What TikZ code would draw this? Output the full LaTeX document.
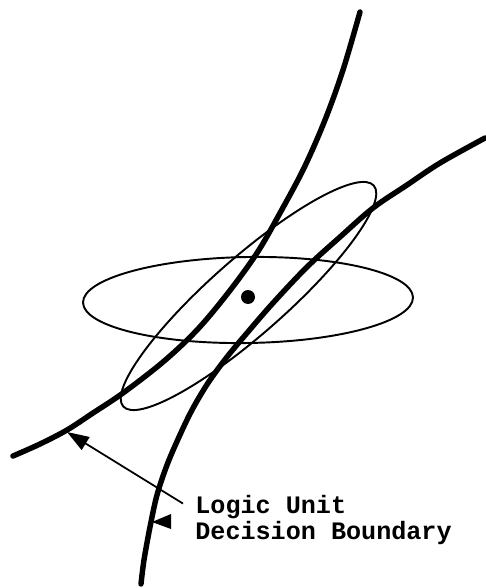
\documentclass[tikz,border=0pt]{standalone}
\usepackage{fontspec}
\setmonofont{Liberation Mono}
\usetikzlibrary{arrows.meta}
\tikzset{
    bound_curve/.style={line width=3.1pt, line cap=round, line join=round},
    spread_ellipse/.style={line width=1.1pt},
    pointer_arrow/.style={-{Triangle[length=12.5pt, width=8.5pt]}, line width=1pt},
    mean_dot/.style={circle, fill=black, inner sep=0pt, minimum size=0.28cm},
    lbl/.style={font=\ttfamily\bfseries\fontsize{14.3}{14.7}\selectfont, inner sep=0pt, anchor=base west}
}
\begin{document}
\begin{tikzpicture}[x=0.02cm, y=-0.02cm]
    \useasboundingbox (0,0) rectangle (485,588);

    % the two decision curves
    \draw[bound_curve] plot[smooth, tension=0.55] coordinates {
        (360,12) (343,70) (325,120) (304,168) (280,213) (257,253) (228,293) (197,330)
        (163,362) (123,393) (93,413) (67,430) (40,444) (13,456)};
    \draw[bound_curve] plot[smooth, tension=0.55] coordinates {
        (485,138) (440,163) (407,185) (373,208) (340,237) (307,267) (273,303) (247,333)
        (227,357) (208,383) (192,410) (179,437) (167,465) (157,495) (150,527) (144,560) (141,584)};

    % the two spread ellipses and their mean
    \draw[spread_ellipse, rotate around={0.9:(248,300)}] (248,300) ellipse [x radius=165, y radius=43];
    \draw[spread_ellipse, rotate around={41.4:(248.5,296)}] (248.5,296) ellipse [x radius=167, y radius=38];
    \node[mean_dot] (mean) at (248,297) {};

    % label
    \node[lbl] (logic_line) at (195,513) {Logic Unit};
    \node[lbl] (decision_line) at (195,539) {Decision Boundary};
    \coordinate (tip_a) at (67,432);
    \draw[pointer_arrow] ([xshift=-0.24cm, yshift=0.06cm]logic_line.west) -- (tip_a);

    % marker on the other curve
    \fill (152,522) -- (171,514) -- (171,529) -- cycle;
\end{tikzpicture}
\end{document}
